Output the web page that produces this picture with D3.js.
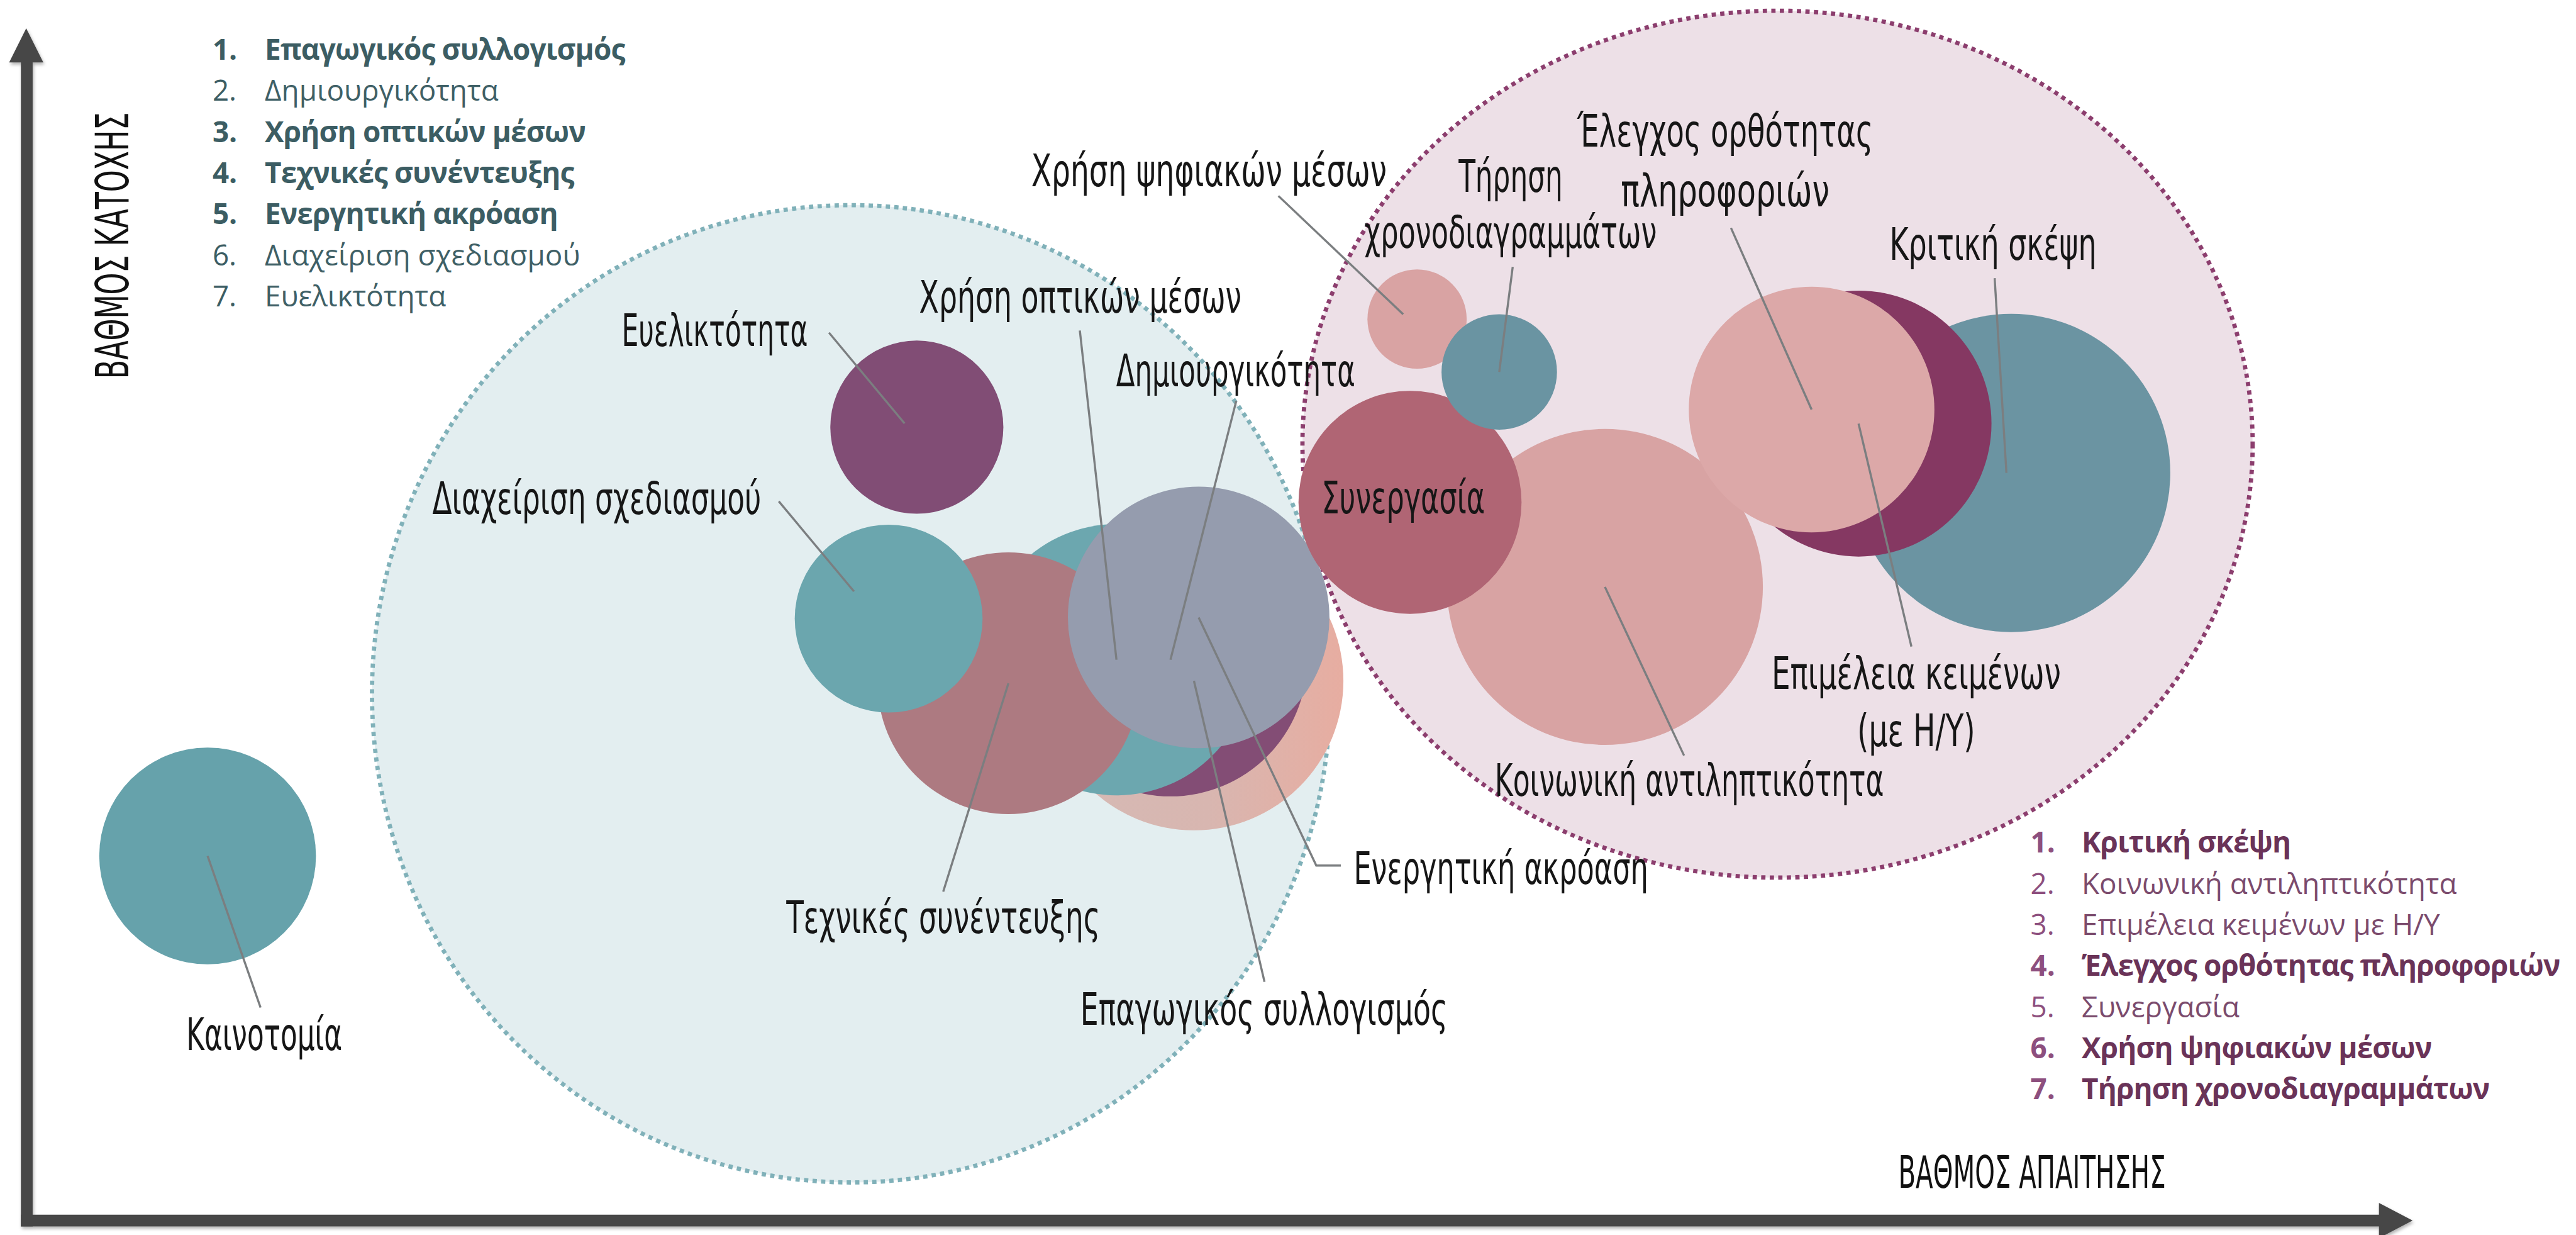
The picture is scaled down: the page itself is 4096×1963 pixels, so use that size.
<!DOCTYPE html>
<html>

<head>
  <meta charset="utf-8">
  <title>Βαθμός απαίτησης / κατοχής δεξιοτήτων</title>
  <script src="https://cdn.jsdelivr.net/npm/d3@7"></script>
  <style>
    html, body { margin: 0; padding: 0; background: #fff; overflow: hidden; }
    svg { display: block; }
  </style>
</head>

<body>
  <svg width="4096" height="1963" viewBox="0 0 4826 2313" id="mainsvg"></svg>
  <script>
    // ---- data ----
    const skills = [
      'Καινοτομία', 'Ευελικτότητα', 'Επαγωγικός συλλογισμός', 'Δημιουργικότητα',
      'Χρήση οπτικών μέσων', 'Τεχνικές συνέντευξης', 'Διαχείριση σχεδιασμού', 'Ενεργητική ακρόαση',
      'Κοινωνική αντιληπτικότητα', 'Συνεργασία', 'Χρήση ψηφιακών μέσων', 'Τήρηση χρονοδιαγραμμάτων',
      'Κριτική σκέψη', 'Επιμέλεια κειμένων (με Η/Υ)', 'Έλεγχος ορθότητας πληροφοριών'
    ];
    // βαθμός απαίτησης (x), βαθμός κατοχής (y), μέγεθος φυσαλίδας
    const demand     = [7.7, 37.9, 49.7, 48.7, 46.4, 41.8, 36.7, 49.9, 67.2, 58.9, 59.2, 62.7, 84.5, 78.0, 76.0];
    const possession = [31.0, 67.5, 45.9, 47.7, 47.7, 45.7, 51.2, 51.3, 53.9, 61.1, 76.7, 72.2, 63.6, 67.8, 69.0];
    const weight     = [45.8, 29.2, 87.1, 72.8, 71.7, 66.7, 34.4, 66.7, 97.3, 48.5, 9.6, 13.0, 98.7, 68.9, 58.8];

    // the two dotted groupings
    const clusterDemand     = [35.1, 74.55];
    const clusterPossession = [44.8, 66.05];
    const clusterSpreadX    = [20.4, 20.23];
    const clusterSpreadY    = [41.6, 36.9];

    const leftLegend = ['Επαγωγικός συλλογισμός', 'Δημιουργικότητα', 'Χρήση οπτικών μέσων',
      'Τεχνικές συνέντευξης', 'Ενεργητική ακρόαση', 'Διαχείριση σχεδιασμού', 'Ευελικτότητα'];
    const leftBold = [1, 3, 4, 5];
    const rightLegend = ['Κριτική σκέψη', 'Κοινωνική αντιληπτικότητα', 'Επιμέλεια κειμένων με Η/Υ',
      'Έλεγχος ορθότητας πληροφοριών', 'Συνεργασία', 'Χρήση ψηφιακών μέσων', 'Τήρηση χρονοδιαγραμμάτων'];
    const rightBold = [1, 4, 6, 7];

    const xTitle = 'ΒΑΘΜΟΣ ΑΠΑΙΤΗΣΗΣ';
    const yTitle = 'ΒΑΘΜΟΣ ΚΑΤΟΧΗΣ';

    // ---- styles ----
    const fillOf = {
      'Καινοτομία': '#66a2ab', 'Ευελικτότητα': '#814d75', 'Επαγωγικός συλλογισμός': 'url(#peach)',
      'Δημιουργικότητα': '#834d75', 'Χρήση οπτικών μέσων': '#6ca7af', 'Τεχνικές συνέντευξης': '#ad7a81',
      'Διαχείριση σχεδιασμού': '#6ba6ae', 'Ενεργητική ακρόαση': '#959cae',
      'Κοινωνική αντιληπτικότητα': '#d8a3a3', 'Συνεργασία': '#b06574', 'Χρήση ψηφιακών μέσων': '#d9a3a3',
      'Τήρηση χρονοδιαγραμμάτων': '#6a94a2', 'Κριτική σκέψη': '#6b94a2',
      'Επιμέλεια κειμένων (με Η/Υ)': '#853862', 'Έλεγχος ορθότητας πληροφοριών': '#dca8a8'
    };
    const clusterFill = ['#e3eef0', '#ede0e7'];
    const clusterStroke = ['#80b1b9', '#8c3e6e'];

    // label placement (reference pixels)
    const labelLayout = [
      { name: 'Καινοτομία', lines: ['Καινοτομία'], x: 495, y: 1967, w: [292], from: [488, 1887] },
      { name: 'Ευελικτότητα', lines: ['Ευελικτότητα'], x: 1339, y: 648, w: [349], from: [1553, 623], tip: [-23, -7] },
      { name: 'Διαχείριση σχεδιασμού', lines: ['Διαχείριση σχεδιασμού'], x: 1118, y: 963, w: [616], from: [1459, 939], tip: [-65, -51] },
      { name: 'Χρήση οπτικών μέσων', lines: ['Χρήση οπτικών μέσων'], x: 2024, y: 586, w: [604], from: [2023, 619] },
      { name: 'Δημιουργικότητα', lines: ['Δημιουργικότητα'], x: 2315, y: 723, w: [448], from: [2316, 751] },
      { name: 'Ενεργητική ακρόαση', lines: ['Ενεργητική ακρόαση'], x: 2812, y: 1655, w: [552], from: [2512, 1621], elbow: [2466, 1621] },
      { name: 'Επαγωγικός συλλογισμός', lines: ['Επαγωγικός συλλογισμός'], x: 2368, y: 1920, w: [688], from: [2369, 1839] },
      { name: 'Τεχνικές συνέντευξης', lines: ['Τεχνικές συνέντευξης'], x: 1767, y: 1747, w: [588], from: [1767, 1670] },
      { name: 'Χρήση ψηφιακών μέσων', lines: ['Χρήση ψηφιακών μέσων'], x: 2265, y: 349, w: [666], from: [2395, 367], tip: [-26, -9] },
      { name: 'Τήρηση χρονοδιαγραμμάτων', lines: ['Τήρηση', 'χρονοδιαγραμμάτων'], x: 2830, y: 359, lh: 105, w: [195, 548], from: [2834, 500] },
      { name: 'Έλεγχος ορθότητας πληροφοριών', lines: ['Έλεγχος ορθότητας', 'πληροφοριών'], x: 3232, y: 275, lh: 112, w: [554, 391], from: [3243, 427] },
      { name: 'Κριτική σκέψη', lines: ['Κριτική σκέψη'], x: 3734, y: 487, w: [388], from: [3737, 521], tip: [-9, 0] },
      { name: 'Συνεργασία', lines: ['Συνεργασία'], x: 2629, y: 961, w: [306] },
      { name: 'Επιμέλεια κειμένων (με Η/Υ)', lines: ['Επιμέλεια κειμένων', '(με Η/Υ)'], x: 3590, y: 1290, lh: 108, w: [542, 221], from: [3581, 1211] },
      { name: 'Κοινωνική αντιληπτικότητα', lines: ['Κοινωνική αντιληπτικότητα'], x: 3165, y: 1491, w: [729], from: [3155, 1415] }
    ];

    // drawing order, back to front
    const drawOrder = [
      'Καινοτομία', 'Ευελικτότητα', 'Επαγωγικός συλλογισμός', 'Δημιουργικότητα', 'Χρήση οπτικών μέσων',
      'Τεχνικές συνέντευξης', 'Διαχείριση σχεδιασμού', 'Ενεργητική ακρόαση',
      'Κοινωνική αντιληπτικότητα', 'Συνεργασία', 'Χρήση ψηφιακών μέσων', 'Τήρηση χρονοδιαγραμμάτων',
      'Κριτική σκέψη', 'Επιμέλεια κειμένων (με Η/Υ)', 'Έλεγχος ορθότητας πληροφοριών'
    ];

    const svg = d3.select('#mainsvg');
    const labelFont = "'Liberation Sans Narrow', 'DejaVu Sans Condensed', 'Liberation Sans', sans-serif";
    const legendFont = "'Open Sans', 'Noto Sans', sans-serif";

    const xScale = d3.scaleLinear().domain([0, 100]).range([50, 4450]);
    const yScale = d3.scaleLinear().domain([0, 100]).range([2285, 85]);
    const rScale = d3.scaleSqrt().domain([0, 100]).range([0, 300]);

    const data = skills.map((s, i) => ({ name: s, x: demand[i], y: possession[i], size: weight[i] }));
    data.sort((a, b) => drawOrder.indexOf(a.name) - drawOrder.indexOf(b.name));
    const byName = {};
    data.forEach(d => { byName[d.name] = d });

    const defs = svg.append('defs');
    const grad = defs.append('linearGradient').attr('id', 'peach')
      .attr('x1', 0).attr('x2', 1).attr('y1', 0).attr('y2', 0);
    grad.append('stop').attr('offset', '0%').attr('stop-color', '#d5bab5');
    grad.append('stop').attr('offset', '55%').attr('stop-color', '#d8b6b0');
    grad.append('stop').attr('offset', '100%').attr('stop-color', '#e7ada1');
    const shadow = defs.append('filter').attr('id', 'shadow')
      .attr('x', '-5%').attr('y', '-5%').attr('width', '110%').attr('height', '110%');
    shadow.append('feDropShadow').attr('dx', 2).attr('dy', 4).attr('stdDeviation', 3)
      .attr('flood-color', '#000').attr('flood-opacity', 0.3);

    // dotted groupings
    svg.append('g').selectAll('ellipse').data(clusterDemand).join('ellipse')
      .attr('cx', d => xScale(d))
      .attr('cy', (d, i) => yScale(clusterPossession[i]))
      .attr('rx', (d, i) => xScale(clusterSpreadX[i]) - xScale(0))
      .attr('ry', (d, i) => yScale(0) - yScale(clusterSpreadY[i]))
      .attr('fill', (d, i) => clusterFill[i])
      .attr('stroke', (d, i) => clusterStroke[i])
      .attr('stroke-width', 8)
      .attr('stroke-dasharray', '8 8');

    // bubbles
    svg.append('g').selectAll('circle').data(data).join('circle')
      .attr('cx', d => xScale(d.x))
      .attr('cy', d => yScale(d.y))
      .attr('r', d => rScale(d.size))
      .attr('fill', d => fillOf[d.name]);

    // leader lines
    const leaders = labelLayout.filter(l => l.from);
    svg.append('g').selectAll('path').data(leaders).join('path')
      .attr('fill', 'none')
      .attr('stroke', '#7b7e80')
      .attr('stroke-width', 4)
      .attr('d', l => {
        const b = byName[l.name];
        const tip = l.tip || [0, 0];
        const p = d3.path();
        p.moveTo(l.from[0], l.from[1]);
        if (l.elbow) p.lineTo(l.elbow[0], l.elbow[1]);
        p.lineTo(xScale(b.x) + tip[0], yScale(b.y) + tip[1]);
        return p.toString();
      });

    // bubble labels
    const lg = svg.append('g').attr('font-family', labelFont).attr('font-size', 84).attr('fill', '#161616');
    labelLayout.forEach(l => {
      l.lines.forEach((line, k) => {
        lg.append('text')
          .attr('x', l.x)
          .attr('y', l.y + k * (l.lh || 0))
          .attr('text-anchor', 'middle')
          .attr('textLength', l.w[k])
          .attr('lengthAdjust', 'spacingAndGlyphs')
          .text(line);
      });
    });

    // axes (arrows)
    const axisG = svg.append('g').attr('fill', '#474747').attr('filter', 'url(#shadow)');
    axisG.append('rect').attr('x', 39).attr('y', 110).attr('width', 22).attr('height', 2187);
    axisG.append('path').attr('d', d3.line()([[17, 117], [49, 53], [81, 117]]) + 'Z');
    axisG.append('rect').attr('x', 39).attr('y', 2275).attr('width', 4425).attr('height', 22);
    axisG.append('path').attr('d', d3.line()([[4457, 2253], [4520, 2286], [4457, 2319]]) + 'Z');

    svg.append('text')
      .attr('x', 3807).attr('y', 2225)
      .attr('text-anchor', 'middle')
      .attr('font-family', labelFont).attr('font-size', 84).attr('fill', '#111')
      .attr('textLength', 501).attr('lengthAdjust', 'spacingAndGlyphs')
      .text(xTitle);
    svg.append('text')
      .attr('transform', 'translate(240, 460) rotate(-90)')
      .attr('text-anchor', 'middle')
      .attr('font-family', labelFont).attr('font-size', 86).attr('fill', '#111')
      .attr('textLength', 499).attr('lengthAdjust', 'spacingAndGlyphs')
      .text(yTitle);

    // legends
    const drawLegend = function (items, bold, numX, textX, baseY, numColor, boldColor, plainColor) {
      const g = svg.append('g').attr('font-family', legendFont).attr('font-size', 54);
      items.forEach((item, i) => {
        const isBold = bold.includes(i + 1);
        const y = baseY + i * 77;
        g.append('text').attr('x', numX).attr('y', y)
          .attr('fill', numColor).attr('font-weight', isBold ? 700 : 400)
          .text((i + 1) + '.');
        g.append('text').attr('x', textX).attr('y', y)
          .attr('fill', isBold ? boldColor : plainColor).attr('font-weight', isBold ? 700 : 400)
          .attr('letter-spacing', isBold ? -1 : 0)
          .text(item);
      });
    };
    drawLegend(leftLegend, leftBold, 398, 496, 112, '#3c5d63', '#3c5d63', '#3f6066');
    drawLegend(rightLegend, rightBold, 3804, 3900, 1597, '#8d4f7e', '#6a3358', '#7b4b6d');
  </script>
</body>

</html>
